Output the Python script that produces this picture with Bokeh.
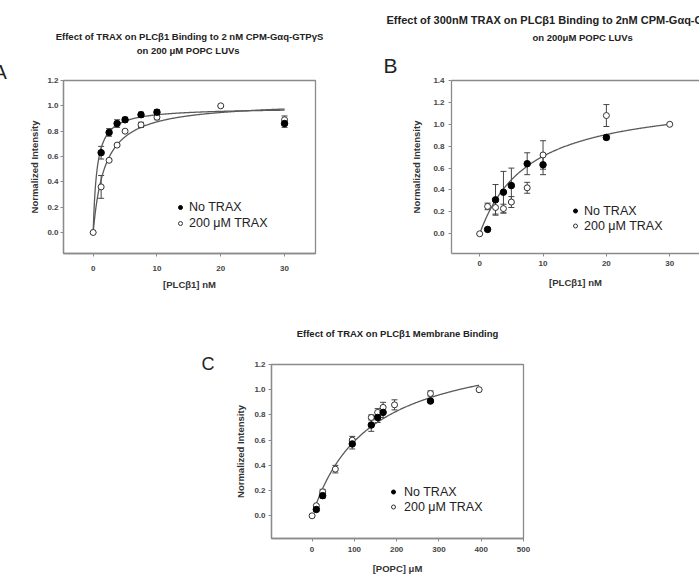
import numpy as np
from bokeh.plotting import figure
from bokeh.models import (ColumnDataSource, Range1d, FixedTicker, Legend,
                          LegendItem, Whisker, TeeHead, LinearAxis, Spacer, Title)
from bokeh.layouts import row, column
from bokeh.embed import file_html
from bokeh.resources import INLINE

# ---------------- data ----------------
# Panel A: PLCb1 binding to CPM-Gaq-GTPgS on 200 uM POPC LUVs
a_x_no = [1.25, 2.5, 3.75, 5, 7.5, 10, 30]
a_y_no = [0.63, 0.79, 0.86, 0.89, 0.93, 0.95, 0.86]
a_e_no = [0.05, 0.03, 0.03, 0.02, 0.02, 0.02, 0.03]
a_x_trax = [0, 1.25, 2.5, 3.75, 5, 7.5, 10, 20, 30]
a_y_trax = [0.0, 0.36, 0.57, 0.69, 0.80, 0.85, 0.91, 1.00, 0.89]
a_e_trax = [0.0, 0.09, 0.01, 0.01, 0.01, 0.02, 0.02, 0.0, 0.03]
a_fit_no = (0.985, 0.6)      # (Bmax, Kd) nM
a_fit_trax = (1.035, 1.85)

# Panel B: 300 nM TRAX, PLCb1 binding to 2 nM CPM-Gaq
b_x_no = [1.25, 2.5, 3.75, 5, 7.5, 10, 20]
b_y_no = [0.04, 0.31, 0.38, 0.44, 0.64, 0.63, 0.88]
b_e_no = [0.01, 0.14, 0.19, 0.16, 0.10, 0.09, 0.02]
b_x_trax = [0, 1.25, 2.5, 3.75, 5, 7.5, 10, 20, 30]
b_y_trax = [0.0, 0.25, 0.24, 0.23, 0.29, 0.42, 0.72, 1.08, 1.00]
b_e_trax = [0.0, 0.03, 0.06, 0.04, 0.05, 0.05, 0.13, 0.10, 0.0]
b_fit = (1.26, 7.8)

# Panel C: PLCb1 membrane binding vs POPC
c_x_no = [10, 25, 95, 140, 155, 168, 280]
c_y_no = [0.05, 0.16, 0.57, 0.72, 0.78, 0.82, 0.91]
c_e_no = [0.01, 0.02, 0.04, 0.05, 0.04, 0.04, 0.01]
c_x_trax = [0, 10, 25, 55, 95, 140, 155, 168, 195, 280, 395]
c_y_trax = [0.0, 0.08, 0.19, 0.37, 0.60, 0.78, 0.82, 0.86, 0.88, 0.97, 1.00]
c_e_trax = [0.0, 0.01, 0.02, 0.03, 0.03, 0.02, 0.03, 0.04, 0.04, 0.02, 0.0]
c_fit = (1.39, 135.0)

FONT = "Liberation Sans"
AXIS_COL = "#8a8a8a"
TXT_COL = "#333333"
CURVE_COL = "#5a5a5a"
TITLE_SIZE = "9.5px"


def make_panel(width, height, borders, xr, yr, xticks, yticks, xlabel,
               stand, outline=True):
    left, right, top, bottom = borders
    p = figure(width=width, height=height, x_range=Range1d(*xr),
               y_range=Range1d(*yr), output_backend="svg",
               toolbar_location=None, min_border_left=left,
               min_border_right=right, min_border_top=top,
               min_border_bottom=bottom)
    p.grid.visible = False
    p.outline_line_color = AXIS_COL if outline else None
    p.outline_line_width = 1.3
    p.background_fill_color = "white"
    p.border_fill_color = "white"
    xs, xls, ys, yls = stand
    p.xaxis.ticker = FixedTicker(ticks=xticks)
    p.yaxis.ticker = FixedTicker(ticks=yticks)
    p.yaxis.major_label_overrides = {t: f"{t:.1f}" for t in yticks}
    for ax in (p.xaxis[0], p.yaxis[0]):
        ax.axis_line_color = AXIS_COL
        ax.axis_line_width = 1.3
        ax.major_tick_line_color = AXIS_COL
        ax.major_tick_in = 0
        ax.major_tick_out = 3
        ax.minor_tick_line_color = None
        ax.major_label_text_font = FONT
        ax.major_label_text_font_size = "8px"
        ax.major_label_text_font_style = "bold"
        ax.major_label_text_color = "#444444"
        ax.axis_label_text_font = FONT
        ax.axis_label_text_font_size = "9.5px"
        ax.axis_label_text_font_style = "bold"
        ax.axis_label_text_color = TXT_COL
    p.xaxis.major_label_standoff = xs
    p.xaxis.axis_label_standoff = xls
    p.yaxis.major_label_standoff = ys
    p.yaxis.axis_label_standoff = yls
    p.xaxis.axis_label = xlabel
    p.yaxis.axis_label = "Normalized Intensity"
    return p


def add_series(p, xs, ys, es, filled):
    src = ColumnDataSource(dict(x=xs, y=ys,
                                lo=[y - e for y, e in zip(ys, es)],
                                hi=[y + e for y, e in zip(ys, es)]))
    w = Whisker(source=src, base="x", lower="lo", upper="hi",
                line_color="#444444", line_width=1,
                lower_head=TeeHead(size=6, line_color="#444444", line_width=1),
                upper_head=TeeHead(size=6, line_color="#444444", line_width=1))
    p.add_layout(w)
    if filled:
        r = p.scatter("x", "y", source=src, size=6.5, marker="circle",
                      fill_color="black", line_color="black")
    else:
        r = p.scatter("x", "y", source=src, size=6, marker="circle",
                      fill_color="white", line_color="#333333", line_width=1)
    return r


def add_fit(p, fit, x0, x1):
    bmax, kd = fit
    xx = np.linspace(x0, x1, 300)
    p.line(xx, bmax * xx / (kd + xx), line_color=CURVE_COL, line_width=1.3)


def add_legend(p, r_no, r_trax, loc, row_h, standoff):
    leg = Legend(items=[LegendItem(label="No TRAX", renderers=[r_no]),
                        LegendItem(label="200 \u03bcM TRAX", renderers=[r_trax])],
                 location=loc, orientation="vertical",
                 background_fill_alpha=0, border_line_color=None,
                 padding=0, margin=0, spacing=0,
                 glyph_width=10, glyph_height=row_h, label_height=row_h,
                 label_standoff=standoff,
                 label_text_font=FONT, label_text_font_size="12.5px",
                 label_text_color="#222222")
    p.add_layout(leg, "center")


def add_title(p, text, size, standoff, align="center", offset=0, bold=True):
    # titles stack outward from the plot frame in the order they are added
    p.add_layout(Title(text=text, text_font=FONT, text_font_size=size,
                       text_font_style="bold" if bold else "normal",
                       text_color="#222222", align=align, offset=offset,
                       standoff=standoff, vertical_align="bottom"), "above")


# ---------------- panel A ----------------
pA = make_panel(340, 302, (63, 25, 80, 49), (-4.65, 34.85), (-0.166, 1.2),
                [0, 10, 20, 30], [0.0, 0.2, 0.4, 0.6, 0.8, 1.0, 1.2],
                "[PLC\u03b21] nM", (9, 5, 2, 4))
add_fit(pA, a_fit_no, 0, 30)
add_fit(pA, a_fit_trax, 0, 30)
rA_t = add_series(pA, a_x_trax, a_y_trax, a_e_trax, False)
rA_n = add_series(pA, a_x_no, a_y_no, a_e_no, True)
add_legend(pA, rA_n, rA_t, (112, 22), 16, 4)
add_title(pA, "A", "20px", -5, align="left", offset=-70, bold=False)
add_title(pA, "on  200 \u03bcM POPC LUVs", TITLE_SIZE, 12)
add_title(pA, "Effect of TRAX on PLC\u03b21 Binding to 2 nM CPM-G\u03b1q-GTP\u03b3S",
          TITLE_SIZE, -10)

# ---------------- panel B ----------------
pB = make_panel(359, 302, (111, 0, 80, 48), (-4.45, 34.7), (-0.18, 1.4),
                [0, 10, 20, 30], [0.0, 0.2, 0.4, 0.6, 0.8, 1.0, 1.2, 1.4],
                "[PLC\u03b21] nM", (4, 8, 4, 8), outline=False)
top_axis = LinearAxis(ticker=FixedTicker(ticks=[]), axis_line_color=AXIS_COL,
                      axis_line_width=1.3, major_tick_line_color=None,
                      minor_tick_line_color=None, major_label_text_font_size="0px")
pB.add_layout(top_axis, "above")
add_fit(pB, b_fit, 0, 30)
rB_t = add_series(pB, b_x_trax, b_y_trax, b_e_trax, False)
rB_n = add_series(pB, b_x_no, b_y_no, b_e_no, True)
add_legend(pB, rB_n, rB_t, (119, 20), 15, 4)
add_title(pB, "B", "21px", 7, align="left", offset=-68, bold=False)
add_title(pB, "on 200\u03bcM POPC LUVs", TITLE_SIZE, 11, align="left", offset=81)
add_title(pB, "Effect of 300nM TRAX on PLC\u03b21 Binding to 2nM CPM-G\u03b1q-GTP\u03b3S",
          "11px", -2, align="left", offset=-65)

# ---------------- panel C ----------------
pC = make_panel(519, 276, (91, 176, 62, 40), (-96, 500), (-0.18, 1.2),
                [0, 100, 200, 300, 400, 500], [0.0, 0.2, 0.4, 0.6, 0.8, 1.0, 1.2],
                "[POPC] \u03bcM", (5, 8, 3, 5))
add_fit(pC, c_fit, 10, 395)
rC_t = add_series(pC, c_x_trax, c_y_trax, c_e_trax, False)
rC_n = add_series(pC, c_x_no, c_y_no, c_e_no, True)
add_legend(pC, rC_n, rC_t, (117, 24), 15, 6)
add_title(pC, "C", "18px", -18, align="left", offset=-70, bold=False)
add_title(pC, "Effect of TRAX on PLC\u03b21 Membrane Binding", TITLE_SIZE, 44)

layout = column(row(pA, pB), row(Spacer(width=180, height=276), pC))

open("out.html", "w").write(file_html(layout, INLINE))
